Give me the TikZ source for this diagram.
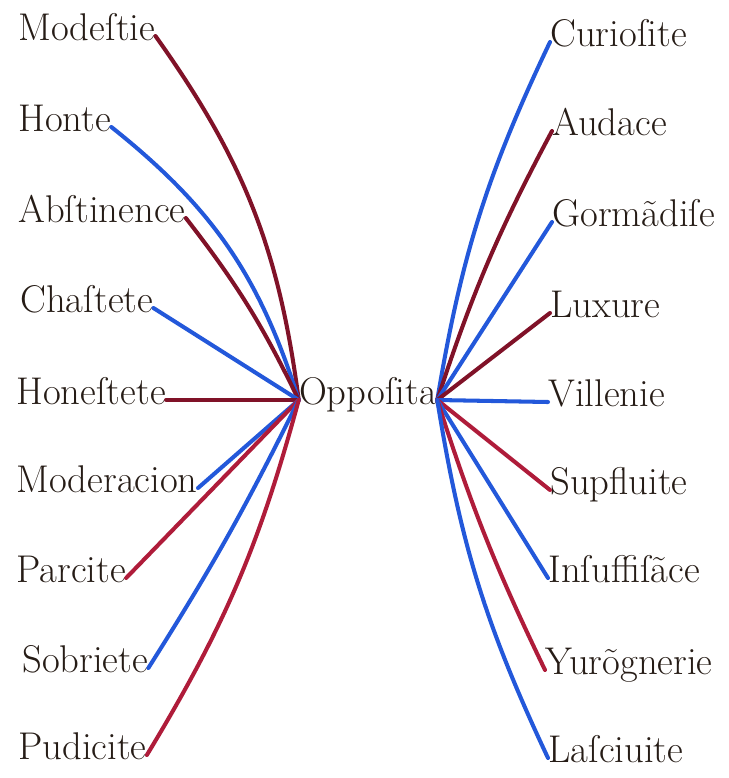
\documentclass[tikz,border=0pt]{standalone}
\usepackage{fontspec}
\usepackage{tikz}
\usetikzlibrary{positioning}

\definecolor{inkred}{RGB}{175,28,58}
\definecolor{inkdark}{RGB}{128,18,40}
\definecolor{inkblue}{RGB}{35,88,218}
\definecolor{ink}{RGB}{38,28,22}

\begin{document}
\begin{tikzpicture}[x=0.02cm,y=-0.02cm,line cap=round,
                    word/.style={inner sep=0pt,text=ink,text height=1.2ex,text depth=0pt,
                                 font=\fontsize{22}{26}\selectfont},
                    red line/.style={draw=inkred,line width=2.3pt},
                    dark line/.style={draw=inkdark,line width=2.3pt},
                    blue line/.style={draw=inkblue,line width=2.3pt}]

  \useasboundingbox (0,0) rectangle (728,778);

  % centre
  \node[word] (opp) at (368,400) {Oppoſita};

  % left column
  \node[word,anchor=west] (mod) at (18,36)  {Modeſtie};
  \node[word,anchor=west] (hon) at (18,127) {Honte};
  \node[word,anchor=west] (abs) at (18,218) {Abſtinence};
  \node[word,anchor=west] (cha) at (20,308) {Chaſtete};
  \node[word,anchor=west] (hns) at (16,400) {Honeſtete};
  \node[word,anchor=west] (mdr) at (16,488) {Moderacion};
  \node[word,anchor=west] (par) at (16,578) {Parcite};
  \node[word,anchor=west] (sob) at (22,668) {Sobriete};
  \node[word,anchor=west] (pud) at (18,755) {Pudicite};

  % right column
  \node[word,anchor=west] (cur) at (550,42)  {Curioſite};
  \node[word,anchor=west] (aud) at (552,131) {Audace};
  \node[word,anchor=west] (gor) at (552,222) {Gormãdiſe};
  \node[word,anchor=west] (lux) at (550,313) {Luxure};
  \node[word,anchor=west] (vil) at (548,402) {Villenie};
  \node[word,anchor=west] (sup) at (550,490) {Supfluite};
  \node[word,anchor=west] (ins) at (548,578) {Inſuffiſãce};
  \node[word,anchor=west] (yur) at (545,670) {Yurõgnerie};
  \node[word,anchor=west] (las) at (548,758) {Laſciuite};

  \path
    (mod.east) edge [dark line,bend left=14] (opp.west)
    (hon.east) edge [blue line,bend left=17] (opp.west)
    (abs.east) edge [dark line,bend left=6]  (opp.west)
    (cha.east) edge [blue line]              (opp.west)
    (hns.east) edge [dark line]              (opp.west)
    (mdr.east) edge [blue line]              (opp.west)
    (par.east) edge [red line]               (opp.west)
    (sob.east) edge [blue line,bend right=3] (opp.west)
    (pud.east) edge [red line,bend right=8]  (opp.west);

  \path
    (opp.east) edge [blue line,bend left=8]  (cur.west)
    (opp.east) edge [dark line,bend left=5]  (aud.west)
    (opp.east) edge [blue line]              (gor.west)
    (opp.east) edge [dark line]              (lux.west)
    (opp.east) edge [blue line]              (vil.west)
    (opp.east) edge [red line]               (sup.west)
    (opp.east) edge [blue line]              (ins.west)
    (opp.east) edge [red line,bend right=4]  (yur.west)
    (opp.east) edge [blue line,bend right=8] (las.west);
\end{tikzpicture}
\end{document}
